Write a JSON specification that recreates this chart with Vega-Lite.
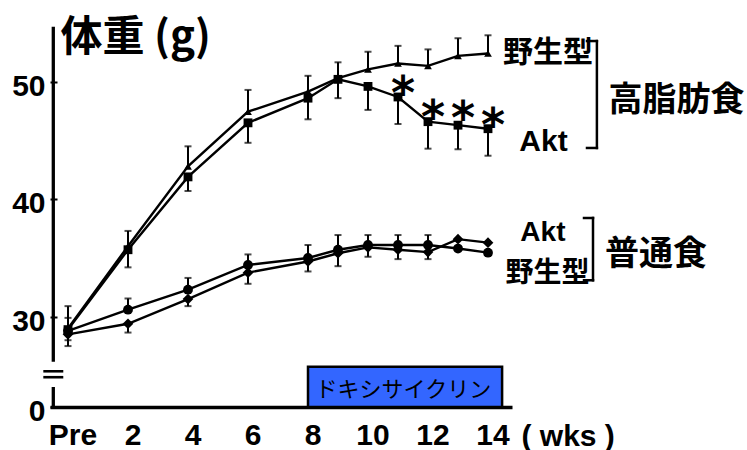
{
  "$schema": "https://vega.github.io/schema/vega-lite/v6.json",
  "width": 462,
  "height": 396,
  "autosize": {"type": "none"},
  "padding": {"left": 50, "top": 11, "right": 235, "bottom": 43},
  "background": "white",
  "config": {
    "view": {"stroke": null},
    "axis": {"grid": false, "domainColor": "black", "labelColor": "black", "titleColor": "black", "tickColor": "black"}
  },
  "datasets": {
    "one": [{}],
    "weights": [
      {"week": 0, "group": "高脂肪食・野生型", "value": 29.0, "lo": 29.0, "hi": 30.9},
      {"week": 2, "group": "高脂肪食・野生型", "value": 36.0, "lo": 36.0, "hi": 37.3},
      {"week": 4, "group": "高脂肪食・野生型", "value": 42.8, "lo": 42.8, "hi": 44.5},
      {"week": 6, "group": "高脂肪食・野生型", "value": 47.45, "lo": 47.45, "hi": 49.3},
      {"week": 8, "group": "高脂肪食・野生型", "value": 49.15, "lo": 49.15, "hi": 50.5},
      {"week": 9, "group": "高脂肪食・野生型", "value": 50.3, "lo": 50.3, "hi": 50.3},
      {"week": 10, "group": "高脂肪食・野生型", "value": 51.05, "lo": 51.05, "hi": 52.55},
      {"week": 11, "group": "高脂肪食・野生型", "value": 51.55, "lo": 51.55, "hi": 53.05},
      {"week": 12, "group": "高脂肪食・野生型", "value": 51.35, "lo": 51.35, "hi": 52.75},
      {"week": 13, "group": "高脂肪食・野生型", "value": 52.2, "lo": 52.2, "hi": 53.7},
      {"week": 14, "group": "高脂肪食・野生型", "value": 52.4, "lo": 52.4, "hi": 53.95},
      {"week": 0, "group": "高脂肪食・Akt", "value": 28.9, "lo": 27.5, "hi": 28.9},
      {"week": 2, "group": "高脂肪食・Akt", "value": 35.7, "lo": 34.2, "hi": 35.7},
      {"week": 4, "group": "高脂肪食・Akt", "value": 41.9, "lo": 40.7, "hi": 41.9},
      {"week": 6, "group": "高脂肪食・Akt", "value": 46.5, "lo": 44.8, "hi": 46.5},
      {"week": 8, "group": "高脂肪食・Akt", "value": 48.6, "lo": 46.8, "hi": 48.6},
      {"week": 9, "group": "高脂肪食・Akt", "value": 50.2, "lo": 48.6, "hi": 51.65},
      {"week": 10, "group": "高脂肪食・Akt", "value": 49.6, "lo": 47.6, "hi": 49.6},
      {"week": 11, "group": "高脂肪食・Akt", "value": 48.7, "lo": 46.4, "hi": 48.7},
      {"week": 12, "group": "高脂肪食・Akt", "value": 46.6, "lo": 44.3, "hi": 46.6},
      {"week": 13, "group": "高脂肪食・Akt", "value": 46.3, "lo": 44.25, "hi": 46.3},
      {"week": 14, "group": "高脂肪食・Akt", "value": 46.0, "lo": 43.7, "hi": 46.0},
      {"week": 0, "group": "普通食・Akt", "value": 28.8, "lo": 28.8, "hi": 29.9},
      {"week": 2, "group": "普通食・Akt", "value": 30.6, "lo": 30.6, "hi": 31.55},
      {"week": 4, "group": "普通食・Akt", "value": 32.3, "lo": 32.3, "hi": 33.3},
      {"week": 6, "group": "普通食・Akt", "value": 34.4, "lo": 34.4, "hi": 35.3},
      {"week": 8, "group": "普通食・Akt", "value": 35.0, "lo": 35.0, "hi": 36.1},
      {"week": 9, "group": "普通食・Akt", "value": 35.7, "lo": 35.7, "hi": 36.95},
      {"week": 10, "group": "普通食・Akt", "value": 36.1, "lo": 36.1, "hi": 36.95},
      {"week": 11, "group": "普通食・Akt", "value": 36.1, "lo": 36.1, "hi": 36.95},
      {"week": 12, "group": "普通食・Akt", "value": 36.1, "lo": 36.1, "hi": 36.95},
      {"week": 13, "group": "普通食・Akt", "value": 35.8, "lo": 35.8, "hi": 35.8},
      {"week": 14, "group": "普通食・Akt", "value": 35.45, "lo": 35.45, "hi": 35.45},
      {"week": 0, "group": "普通食・野生型", "value": 28.5, "lo": 28.0, "hi": 28.5},
      {"week": 2, "group": "普通食・野生型", "value": 29.4, "lo": 28.65, "hi": 29.4},
      {"week": 4, "group": "普通食・野生型", "value": 31.5, "lo": 30.9, "hi": 31.5},
      {"week": 6, "group": "普通食・野生型", "value": 33.75, "lo": 32.8, "hi": 33.75},
      {"week": 8, "group": "普通食・野生型", "value": 34.7, "lo": 33.85, "hi": 34.7},
      {"week": 9, "group": "普通食・野生型", "value": 35.4, "lo": 34.3, "hi": 35.4},
      {"week": 10, "group": "普通食・野生型", "value": 35.9, "lo": 35.1, "hi": 35.9},
      {"week": 11, "group": "普通食・野生型", "value": 35.7, "lo": 34.9, "hi": 35.7},
      {"week": 12, "group": "普通食・野生型", "value": 35.5, "lo": 34.9, "hi": 35.5},
      {"week": 13, "group": "普通食・野生型", "value": 36.6, "lo": 36.6, "hi": 36.6},
      {"week": 14, "group": "普通食・野生型", "value": 36.3, "lo": 36.3, "hi": 36.3}
    ],
    "stars": [
      {"week": 11, "value": 49.8},
      {"week": 12, "value": 47.8},
      {"week": 13, "value": 47.65},
      {"week": 14, "value": 47.1}
    ]
  },
  "layer": [
    {
      "data": {"name": "one"},
      "mark": {"type": "rect", "fill": "#3366FF", "stroke": "black", "strokeWidth": 2.5},
      "encoding": {
        "x": {"datum": 8}, "x2": {"datum": 14.47},
        "y": {"datum": 0}, "y2": {"datum": 25.48}
      }
    },
    {
      "data": {"name": "one"},
      "mark": {"type": "text", "text": "ドキシサイクリン", "font": "Noto Sans CJK JP", "fontSize": 22, "color": "black", "baseline": "middle", "align": "center"},
      "encoding": {"x": {"datum": 11.18}, "y": {"datum": 18.7}}
    },
    {
      "data": {"name": "one"},
      "mark": {"type": "rule", "color": "black", "strokeWidth": 3.3},
      "encoding": {"x": {"datum": -0.49}, "y": {"datum": 26.17}, "y2": {"datum": 54.68}}
    },
    {
      "data": {"name": "one"},
      "mark": {"type": "rule", "color": "black", "strokeWidth": 3.3},
      "encoding": {"x": {"datum": -0.49}, "y": {"datum": 0}, "y2": {"datum": 22}}
    },
    {
      "data": {"name": "one"},
      "mark": {"type": "rule", "color": "black", "strokeWidth": 2.6},
      "encoding": {"x": {"datum": -0.823}, "x2": {"datum": -0.157}, "y": {"datum": 24.7}}
    },
    {
      "data": {"name": "one"},
      "mark": {"type": "rule", "color": "black", "strokeWidth": 2.6},
      "encoding": {"x": {"datum": -0.823}, "x2": {"datum": -0.157}, "y": {"datum": 23.68}}
    },
    {
      "data": {"name": "one"},
      "mark": {"type": "rule", "color": "black", "strokeWidth": 2.5, "strokeCap": "square"},
      "encoding": {"x": {"datum": 17.63}, "y": {"datum": 44.36}, "y2": {"datum": 53.46}}
    },
    {
      "data": {"name": "one"},
      "mark": {"type": "rule", "color": "black", "strokeWidth": 2.5, "strokeCap": "square"},
      "encoding": {"x": {"datum": 17.3}, "x2": {"datum": 17.63}, "y": {"datum": 53.46}}
    },
    {
      "data": {"name": "one"},
      "mark": {"type": "rule", "color": "black", "strokeWidth": 2.5, "strokeCap": "square"},
      "encoding": {"x": {"datum": 17.3}, "x2": {"datum": 17.63}, "y": {"datum": 44.36}}
    },
    {
      "data": {"name": "one"},
      "mark": {"type": "rule", "color": "black", "strokeWidth": 2.5, "strokeCap": "square"},
      "encoding": {"x": {"datum": 17.5}, "y": {"datum": 33.1}, "y2": {"datum": 38.4}}
    },
    {
      "data": {"name": "one"},
      "mark": {"type": "rule", "color": "black", "strokeWidth": 2.5, "strokeCap": "square"},
      "encoding": {"x": {"datum": 17.2}, "x2": {"datum": 17.5}, "y": {"datum": 38.4}}
    },
    {
      "data": {"name": "one"},
      "mark": {"type": "rule", "color": "black", "strokeWidth": 2.5, "strokeCap": "square"},
      "encoding": {"x": {"datum": 17.2}, "x2": {"datum": 17.5}, "y": {"datum": 33.1}}
    },
    {
      "data": {"name": "weights"},
      "mark": {"type": "line", "color": "black", "strokeWidth": 2.4},
      "encoding": {
        "x": {
          "field": "week", "type": "quantitative",
          "scale": {"domain": [-0.6, 14.8], "nice": false, "zero": false},
          "axis": {
            "values": [0, 2, 4, 6, 8, 10, 12, 14],
            "labelExpr": "datum.value === 0 ? 'Pre' : datum.label",
            "title": "( wks )",
            "titleX": 471, "titleY": 38, "titleAlign": "left", "titleBaseline": "alphabetic",
            "titleFont": "Liberation Sans", "titleFontSize": 30, "titleFontWeight": "bold",
            "labelFont": "Liberation Sans", "labelFontSize": 30, "labelFontWeight": "bold",
            "labelOffset": 4.5, "labelPadding": 13.5, "labelFlush": false, "labelOverlap": false,
            "ticks": false, "domainWidth": 3.3
          }
        },
        "y": {
          "field": "value", "type": "quantitative",
          "scale": {"domain": [0, 22, 26, 56], "range": [396, 376, 352.7, 0.2], "nice": false, "zero": false},
          "axis": {
            "values": [0, 30, 40, 50],
            "title": "体重 (g)",
            "titleAngle": 0, "titleAlign": "left", "titleBaseline": "alphabetic",
            "titleX": 10, "titleY": 39,
            "titleFont": "Noto Sans CJK JP", "titleFontSize": 42, "titleFontWeight": "bold",
            "domain": false, "ticks": true, "tickSize": -7, "tickWidth": 2,
            "labelPadding": 12, "labelOffset": 4.5,
            "labelFont": "Liberation Sans", "labelFontSize": 30, "labelFontWeight": "bold",
            "labelOverlap": false,
            "encode": {"labels": {"update": {"dx": {"signal": "datum.value === 0 ? -5 : 0"}}}}
          }
        },
        "detail": {"field": "group", "type": "nominal"}
      }
    },
    {
      "data": {"name": "weights"},
      "transform": [{"filter": "datum.hi > datum.lo"}],
      "mark": {"type": "rule", "color": "black", "strokeWidth": 2},
      "encoding": {
        "x": {"field": "week", "type": "quantitative"},
        "y": {"field": "lo", "type": "quantitative"},
        "y2": {"field": "hi"}
      }
    },
    {
      "data": {"name": "weights"},
      "transform": [{"filter": "datum.hi > datum.value + 0.01"}],
      "mark": {"type": "tick", "orient": "horizontal", "color": "black", "size": 7, "thickness": 2},
      "encoding": {
        "x": {"field": "week", "type": "quantitative"},
        "y": {"field": "hi", "type": "quantitative"}
      }
    },
    {
      "data": {"name": "weights"},
      "transform": [{"filter": "datum.lo < datum.value - 0.01"}],
      "mark": {"type": "tick", "orient": "horizontal", "color": "black", "size": 7, "thickness": 2},
      "encoding": {
        "x": {"field": "week", "type": "quantitative"},
        "y": {"field": "lo", "type": "quantitative"}
      }
    },
    {
      "data": {"name": "weights"},
      "mark": {"type": "point", "filled": true, "color": "black", "opacity": 1},
      "encoding": {
        "x": {"field": "week", "type": "quantitative"},
        "y": {"field": "value", "type": "quantitative"},
        "shape": {
          "field": "group", "type": "nominal",
          "scale": {"domain": ["高脂肪食・野生型", "高脂肪食・Akt", "普通食・Akt", "普通食・野生型"], "range": ["triangle-up", "square", "circle", "diamond"]},
          "legend": null
        },
        "size": {
          "field": "group", "type": "ordinal",
          "scale": {"domain": ["高脂肪食・野生型", "高脂肪食・Akt", "普通食・Akt", "普通食・野生型"], "range": [60, 115, 115, 50]},
          "legend": null
        }
      }
    },
    {
      "data": {"name": "stars"},
      "mark": {"type": "text", "text": "*", "font": "DejaVu Sans", "fontWeight": "bold", "fontSize": 46, "color": "black", "align": "center", "baseline": "alphabetic", "dx": 5, "dy": 25},
      "encoding": {
        "x": {"field": "week", "type": "quantitative"},
        "y": {"field": "value", "type": "quantitative"}
      }
    },
    {
      "data": {"name": "one"},
      "mark": {"type": "text", "text": "野生型", "font": "Noto Sans CJK JP", "fontSize": 30, "fontWeight": "bold", "color": "black", "baseline": "middle", "align": "center"},
      "encoding": {"x": {"datum": 16.0}, "y": {"datum": 52.44}}
    },
    {
      "data": {"name": "one"},
      "mark": {"type": "text", "text": "Akt", "font": "Liberation Sans", "fontSize": 30, "fontWeight": "bold", "color": "black", "baseline": "middle", "align": "center"},
      "encoding": {"x": {"datum": 15.85}, "y": {"datum": 44.87}}
    },
    {
      "data": {"name": "one"},
      "mark": {"type": "text", "text": "高脂肪食", "font": "Noto Sans CJK JP", "fontSize": 34, "fontWeight": "bold", "color": "black", "baseline": "middle", "align": "center"},
      "encoding": {"x": {"datum": 20.28}, "y": {"datum": 48.36}}
    },
    {
      "data": {"name": "one"},
      "mark": {"type": "text", "text": "Akt", "font": "Liberation Sans", "fontSize": 28, "fontWeight": "bold", "color": "black", "baseline": "middle", "align": "center"},
      "encoding": {"x": {"datum": 15.83}, "y": {"datum": 37.1}}
    },
    {
      "data": {"name": "one"},
      "mark": {"type": "text", "text": "野生型", "font": "Noto Sans CJK JP", "fontSize": 28, "fontWeight": "bold", "color": "black", "baseline": "middle", "align": "center"},
      "encoding": {"x": {"datum": 15.98}, "y": {"datum": 33.65}}
    },
    {
      "data": {"name": "one"},
      "mark": {"type": "text", "text": "普通食", "font": "Noto Sans CJK JP", "fontSize": 34, "fontWeight": "bold", "color": "black", "baseline": "middle", "align": "center"},
      "encoding": {"x": {"datum": 19.6}, "y": {"datum": 35.24}}
    }
  ]
}
